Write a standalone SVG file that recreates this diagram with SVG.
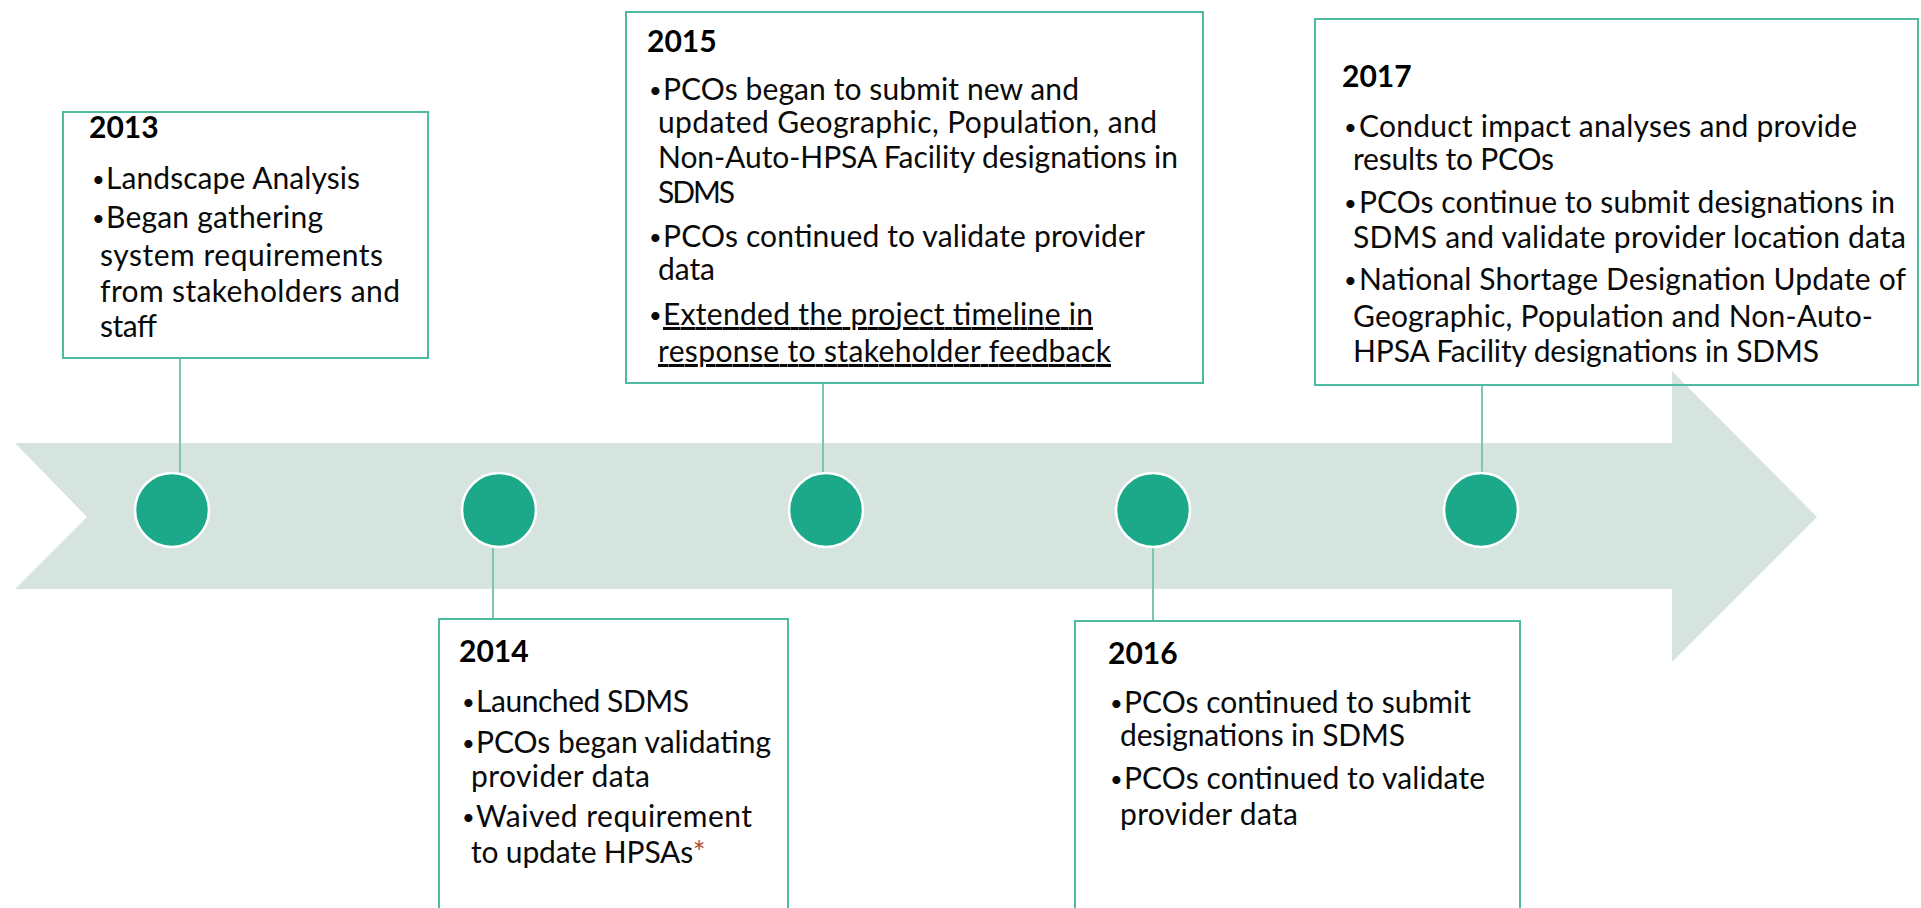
<svg xmlns="http://www.w3.org/2000/svg" width="1921" height="908" viewBox="0 0 1921 908">
<style>
.band{fill:#d5e4de}
.dot{fill:#1ba98a;stroke:#ffffff;stroke-width:2.5}
.box{fill:none;stroke:#4dbb9f;stroke-width:2}
.conn{stroke:#7cc6ad;stroke-width:2;fill:none}
text{font-family:Lato,"Liberation Sans",sans-serif;font-size:30px;fill:#0a0a0a}
.yr{font-weight:bold;fill:#000000}
.b{font-size:22px}
.u{text-decoration:underline}
.ast{fill:#b04a3a}
</style>
<rect width="1921" height="908" fill="#ffffff"/>
<polygon class="band" points="15,443 1672,443 1672,371 1817,517 1672,662 1672,589 15,589 87,517"/>
<g id="connectors">
<line class="conn" x1="180" y1="358" x2="180" y2="474"/>
<line class="conn" x1="493" y1="546" x2="493" y2="619"/>
<line class="conn" x1="823" y1="383" x2="823" y2="474"/>
<line class="conn" x1="1153" y1="546" x2="1153" y2="621"/>
<line class="conn" x1="1482" y1="385" x2="1482" y2="474"/>
</g>
<g id="dots">
<circle class="dot" cx="172" cy="510" r="37"/>
<circle class="dot" cx="499" cy="510" r="37"/>
<circle class="dot" cx="826" cy="510" r="37"/>
<circle class="dot" cx="1153" cy="510" r="37"/>
<circle class="dot" cx="1481" cy="510" r="37"/>
</g>
<g id="n2013">
<rect class="box" x="63" y="112" width="365" height="246"/>
<text class="yr" x="89" y="138">2013</text>
<text class="b" x="92" y="187">•</text><text x="106" y="189" textLength="254">Landscape Analysis</text>
<text class="b" x="92" y="226">•</text><text x="106" y="228" textLength="217">Began gathering</text>
<text x="100" y="266" textLength="283">system requirements</text>
<text x="100" y="302" textLength="300">from stakeholders and</text>
<text x="100" y="337" textLength="57">staff</text>
</g>
<g id="n2014">
<rect class="box" x="439" y="619" width="349" height="300"/>
<text class="yr" x="459" y="662">2014</text>
<text class="b" x="462" y="710">•</text><text x="476" y="712" textLength="213">Launched SDMS</text>
<text class="b" x="462" y="751">•</text><text x="476" y="753" textLength="295">PCOs began validating</text>
<text x="471" y="787" textLength="179">provider data</text>
<text class="b" x="462" y="825">•</text><text x="476" y="827" textLength="276">Waived requirement</text>
<text x="471" y="863"><tspan textLength="222">to update HPSAs</tspan><tspan class="ast">*</tspan></text>
</g>
<g id="n2015">
<rect class="box" x="626" y="12" width="577" height="371"/>
<text class="yr" x="647" y="52">2015</text>
<text class="b" x="649" y="98">•</text><text x="663" y="100" textLength="416">PCOs began to submit new and</text>
<text x="658" y="133" textLength="499">updated Geographic, Population, and</text>
<text x="658" y="168" textLength="520">Non-Auto-HPSA Facility designations in</text>
<text x="658" y="203" textLength="77">SDMS</text>
<text class="b" x="649" y="245">•</text><text x="663" y="247" textLength="482">PCOs continued to validate provider</text>
<text x="658" y="280" textLength="57">data</text>
<text class="b" x="649" y="323">•</text><text class="u" x="663" y="325" textLength="430">Extended the project timeline in</text>
<text class="u" x="658" y="362" textLength="453">response to stakeholder feedback</text>
</g>
<g id="n2016">
<rect class="box" x="1075" y="621" width="445" height="300"/>
<text class="yr" x="1108" y="664">2016</text>
<text class="b" x="1110" y="711">•</text><text x="1124" y="713" textLength="347">PCOs continued to submit</text>
<text x="1120" y="746" textLength="285">designations in SDMS</text>
<text class="b" x="1110" y="787">•</text><text x="1124" y="789" textLength="361">PCOs continued to validate</text>
<text x="1120" y="825" textLength="178">provider data</text>
</g>
<g id="n2017">
<rect class="box" x="1315" y="19" width="603" height="366"/>
<text class="yr" x="1342" y="87">2017</text>
<text class="b" x="1344" y="135">•</text><text x="1359" y="137" textLength="498">Conduct impact analyses and provide</text>
<text x="1353" y="170" textLength="201">results to PCOs</text>
<text class="b" x="1344" y="211">•</text><text x="1359" y="213" textLength="536">PCOs continue to submit designations in</text>
<text x="1353" y="248" textLength="553">SDMS and validate provider location data</text>
<text class="b" x="1344" y="288">•</text><text x="1359" y="290" textLength="547">National Shortage Designation Update of</text>
<text x="1353" y="327" textLength="520">Geographic, Population and Non-Auto-</text>
<text x="1353" y="362" textLength="466">HPSA Facility designations in SDMS</text>
</g>
</svg>
